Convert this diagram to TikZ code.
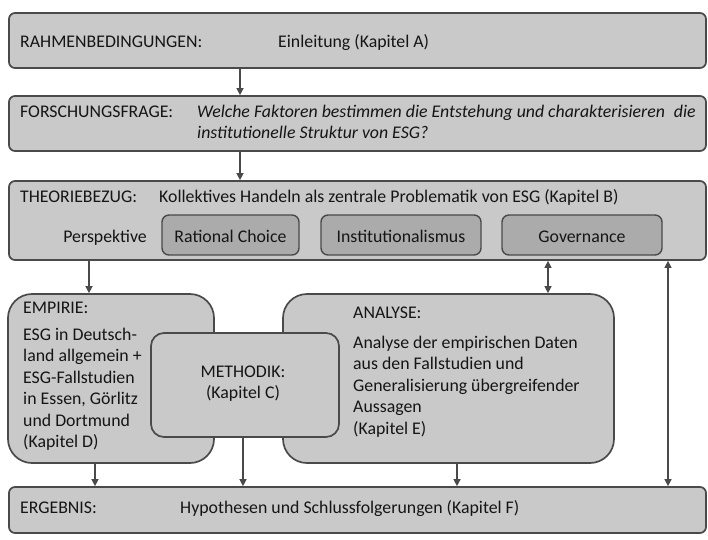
\documentclass[tikz,border=0pt]{standalone}
\usepackage{fontspec}
\setmainfont{Carlito}
\usetikzlibrary{arrows.meta}
\definecolor{boxfill}{HTML}{C9C9C9}
\definecolor{innerfill}{HTML}{ABABAB}
\definecolor{boxline}{HTML}{4A4A4A}
\definecolor{txt}{HTML}{151515}
\tikzset{
  bigbox/.style={draw=boxline, fill=boxfill, line width=1.7pt, rounded corners=6pt, inner sep=0pt},
  roundbox/.style={draw=boxline, fill=boxfill, line width=1.7pt, rounded corners=24pt, inner sep=0pt},
  methbox/.style={draw=boxline, fill=boxfill, line width=1.7pt, rounded corners=13pt, inner sep=0pt},
  innerbox/.style={draw=boxline, fill=innerfill, line width=1.4pt, rounded corners=7pt, inner sep=0pt},
  lbl/.style={text=txt, inner sep=0pt, font=\fontsize{17.8}{21.5}\selectfont},
  arr/.style={draw=boxline, line width=1.3pt, -{Triangle[length=7pt,width=7pt]}},
  darr/.style={draw=boxline, line width=1.3pt, {Triangle[length=7pt,width=7pt]}-{Triangle[length=7pt,width=7pt]}}
}
\begin{document}
\begin{tikzpicture}[x=1pt,y=-1pt]
\useasboundingbox (0,0) rectangle (708,539);
% main boxes
\node[bigbox, minimum width=697pt, minimum height=55pt] (box1) at (357.5,40.5) {};
\node[bigbox, minimum width=697pt, minimum height=55pt] (box2) at (357.5,123.5) {};
\node[bigbox, minimum width=697pt, minimum height=79pt] (box3) at (357.5,220.5) {};
\node[innerbox, minimum width=137pt, minimum height=40pt] (rc) at (230.5,235) {};
\node[innerbox, minimum width=160pt, minimum height=40pt] (inst) at (401,235) {};
\node[innerbox, minimum width=160pt, minimum height=40pt] (gov) at (582,235) {};
\node[roundbox, minimum width=206pt, minimum height=169pt] (emp) at (111,378.5) {};
\node[roundbox, minimum width=331pt, minimum height=169pt] (ana) at (448.5,378.5) {};
\node[methbox, minimum width=188pt, minimum height=104pt] (meth) at (245,385) {};
\node[bigbox, minimum width=697pt, minimum height=46pt] (erg) at (357.5,510) {};
% texts
\node[lbl, anchor=base west] (t1a) at (20,47) {RAHMENBEDINGUNGEN:};
\node[lbl, anchor=base west] (t1b) at (278,47) {Einleitung (Kapitel A)};
\node[lbl, anchor=base west] (t2a) at (20,117) {FORSCHUNGSFRAGE:};
\node[lbl, anchor=base west] (t2b) at (197,117) {\itshape Welche Faktoren bestimmen die Entstehung und charakterisieren\hspace{9pt}die};
\node[lbl, anchor=base west] (t2c) at (197,138) {\itshape institutionelle Struktur von ESG?};
\node[lbl, anchor=base west] (t3a) at (20,202) {THEORIEBEZUG:};
\node[lbl, anchor=base west] (t3b) at (159,202) {Kollektives Handeln als zentrale Problematik von ESG (Kapitel B)};
\node[lbl, anchor=base east] (t3c) at (147,242) {Perspektive};
\node[lbl, anchor=base] (trc) at (230.5,242) {Rational Choice};
\node[lbl, anchor=base] (tinst) at (401,242) {Institutionalismus};
\node[lbl, anchor=base] (tgov) at (582,242) {Governance};
\node[lbl, anchor=base west] (te0) at (23,313) {EMPIRIE:};
\node[lbl, anchor=base west] (te1) at (23,340) {ESG in Deutsch-};
\node[lbl, anchor=base west] (te2) at (23,361.5) {land allgemein +};
\node[lbl, anchor=base west] (te3) at (23,383) {ESG-Fallstudien};
\node[lbl, anchor=base west] (te4) at (23,404.5) {in Essen, Görlitz};
\node[lbl, anchor=base west] (te5) at (23,426) {und Dortmund};
\node[lbl, anchor=base west] (te6) at (23,447.5) {(Kapitel D)};
\node[lbl, anchor=base] (tm1) at (243,377) {METHODIK:};
\node[lbl, anchor=base] (tm2) at (243,398.5) {(Kapitel C)};
\node[lbl, anchor=base west] (ta0) at (353,318) {ANALYSE:};
\node[lbl, anchor=base west] (ta1) at (353,348) {Analyse der empirischen Daten};
\node[lbl, anchor=base west] (ta2) at (353,369.5) {aus den Fallstudien und};
\node[lbl, anchor=base west] (ta3) at (353,391) {Generalisierung übergreifender};
\node[lbl, anchor=base west] (ta4) at (353,412.5) {Aussagen};
\node[lbl, anchor=base west] (ta5) at (353,434) {(Kapitel E)};
\node[lbl, anchor=base west] (tg1) at (20,513) {ERGEBNIS:};
\node[lbl, anchor=base west] (tg2) at (180,513) {Hypothesen und Schlussfolgerungen (Kapitel F)};
% connector x positions
\coordinate (xa) at (240,0);
\coordinate (xb) at (89,0);
\coordinate (xc) at (548,0);
\coordinate (xd) at (668,0);
\coordinate (xe) at (95,0);
\coordinate (xf) at (243,0);
\coordinate (xg) at (457,0);
% connectors
\draw[arr] (box1.south -| xa) -- (box2.north -| xa);
\draw[arr] (box2.south -| xa) -- (box3.north -| xa);
\draw[arr] (box3.south -| xb) -- (emp.north -| xb);
\draw[darr] (box3.south -| xc) -- (ana.north -| xc);
\draw[darr] (box3.south -| xd) -- (erg.north -| xd);
\draw[arr] (emp.south -| xe) -- (erg.north -| xe);
\draw[arr] (meth.south -| xf) -- (erg.north -| xf);
\draw[arr] (ana.south -| xg) -- (erg.north -| xg);
\end{tikzpicture}
\end{document}
